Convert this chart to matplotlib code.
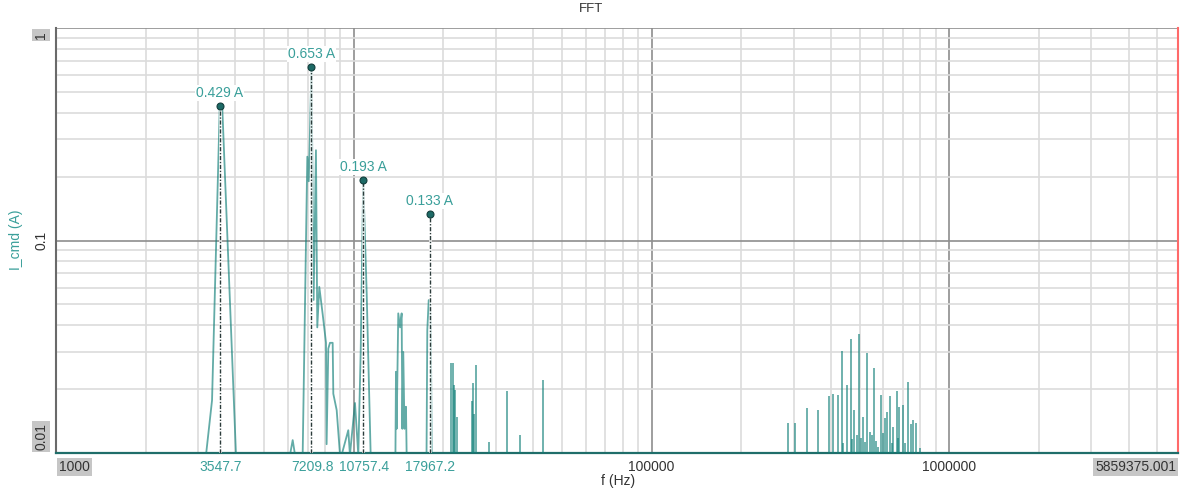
import matplotlib
matplotlib.use("Agg")
import matplotlib.pyplot as plt
import numpy as np
from matplotlib.ticker import LogLocator, NullFormatter

plt.rcParams["font.family"] = ["Liberation Sans", "DejaVu Sans"]

# ---- data (f in Hz, amplitude in A) ----
# connected part of the spectrum (0 = below the 0.01 floor)
band_f = [1000, 3190, 3342, 3547.7, 3617, 4022,
          6107, 6235, 6348,
          6735, 6981, 7060, 7209.8, 7330, 7464, 7541, 7659, 7862, 8067,
          8105, 8212, 8319, 8494, 8536, 8762, 8989, 9105, 9583, 9707,
          10093, 10354, 10549, 10757.4, 11049, 11395,
          13800, 13857, 13930, 14106, 14300, 14480, 14560, 14662, 14800,
          14972, 15050,
          17550, 17655, 17850, 18030, 18150, 18268, 5859375]
band_a = [0, 0, 0.0177, 0.429, 0.424, 0,
          0, 0.0115, 0,
          0, 0.248, 0.19, 0.653, 0.0525, 0.266, 0.039, 0.0605, 0.045, 0.033,
          0.011, 0.031, 0.033, 0.033, 0.019, 0.0159, 0, 0, 0.0128, 0,
          0.0172, 0, 0.03, 0.193, 0.0566, 0,
          0, 0.0241, 0.013, 0.0454, 0.039, 0.0454, 0.013, 0.0299, 0.013,
          0.0165, 0,
          0, 0.0379, 0.0524, 0.0524, 0.0366, 0, 0]

# isolated spectral lines
spike_f = [21158, 21486, 21703, 21872, 22157,
           24882, 25077, 25329, 25725, 28510, 32620, 36140, 43290,
           287700, 303000, 333300, 362900, 395200, 405700, 423700, 437000,
           452100, 466400, 479500, 497200, 511700, 530200, 548500, 558400,
           577300, 589400, 607900, 618800, 633400, 648100, 665400, 679000,
           697000, 709500, 726100, 741300, 756500, 770600, 796700,
           441000, 470000, 489000, 505000, 520000, 541000, 566000, 600000,
           640000, 672000]
spike_a = [0.0264, 0.0266, 0.0209, 0.0198, 0.0148,
           0.0175, 0.0214, 0.0153, 0.0259, 0.0113, 0.0195, 0.0122, 0.0221,
           0.0138, 0.0139, 0.0162, 0.0159, 0.0185, 0.0190, 0.0187, 0.0302,
           0.0210, 0.0343, 0.0159, 0.0362, 0.0148, 0.0296, 0.0122, 0.0252,
           0.0107, 0.0187, 0.0146, 0.0156, 0.0185, 0.0133, 0.0196, 0.0165,
           0.0169, 0.0112, 0.0217, 0.0137, 0.0143, 0.0138, 0.0106,
           0.0112, 0.0116, 0.0121, 0.0118, 0.0113, 0.0125, 0.0114, 0.0124,
           0.0112, 0.0118]

# cursor peaks
peak_f = [3547.7, 7209.8, 10757.4, 17967.2]
peak_a = [0.429, 0.653, 0.193, 0.133]
peak_lbl = ["3547.7", "7209.8", "10757.4", "17967.2"]

TEAL = "#0f7f78"
LABEL_TEAL = "#3a9f9a"
FLOOR = 0.0098  # just under the axis floor, hidden behind the bottom spine

fig = plt.figure(figsize=(11.82, 4.93), dpi=100)
ax = fig.add_axes([56 / 1182, 40 / 493, (1178 - 56) / 1182, (453 - 28) / 493])
ax.set_xscale("log")
ax.set_yscale("log")
ax.set_xlim(1000, 5859375.001)
ax.set_ylim(0.01, 1)

# grid
subs = np.arange(2, 10)
ax.xaxis.set_minor_locator(LogLocator(base=10, subs=subs, numticks=20))
ax.yaxis.set_minor_locator(LogLocator(base=10, subs=subs, numticks=20))
ax.xaxis.set_minor_formatter(NullFormatter())
ax.yaxis.set_minor_formatter(NullFormatter())
ax.grid(which="minor", color="#dcdcdc", lw=1.2)
ax.grid(which="major", color="#8e8e8e", lw=1.2)
ax.set_axisbelow(True)
ax.tick_params(which="both", length=0, labelbottom=False, labelleft=False)

ax.spines["top"].set_visible(False)
ax.spines["left"].set_color("#6a6a6a")
ax.spines["left"].set_linewidth(1.5)
ax.spines["bottom"].set_color("#1f6e6a")
ax.spines["bottom"].set_linewidth(1.6)
ax.spines["right"].set_color("#ff6a6a")
ax.spines["right"].set_linewidth(1.5)

# spectrum
amps = np.where(np.array(band_a) > 0, band_a, FLOOR)
ax.plot(band_f, amps, color=TEAL, alpha=0.65, lw=1.3, zorder=3)
ax.vlines(spike_f, FLOOR, spike_a, color=TEAL, alpha=0.65, lw=1.3, zorder=3)

# cursor lines + markers
ax.vlines(peak_f, 0.01, peak_a, color="white", lw=2.0, alpha=0.8, zorder=4)
ax.vlines(peak_f, 0.01, peak_a, color="#2b3b3a", lw=1.0,
          linestyles=[(0, (3, 1.2, 1, 1.2))], zorder=5)
ax.plot(peak_f, peak_a, "o", ms=5, color="#1d6a66", mec="#123e3c", mew=0.8,
        zorder=6)
for f, a in zip(peak_f, peak_a):
    ax.annotate(f"{a:.3f} A", (f, a), xytext=(0, 6), textcoords="offset pixels",
                ha="center", va="bottom", fontsize=10, color=LABEL_TEAL,
                bbox=dict(fc="white", ec="none", pad=0.8), zorder=7)

# x tick labels
tx = ax.get_xaxis_transform()
gray_box = dict(fc="#c6c6c6", ec="none", pad=1.6)
for f in [100000, 1000000]:
    ax.annotate(f"{f}", (f, 0), xycoords=tx, xytext=(0, -7),
                textcoords="offset pixels", ha="center", va="top",
                fontsize=10, color="#333333", annotation_clip=False)
ax.annotate("1000", (1000, 0), xycoords=tx, xytext=(3, -7),
            textcoords="offset pixels", ha="left", va="top", fontsize=10,
            color="#333333", bbox=gray_box, annotation_clip=False)
ax.annotate("5859375.001", (5859375.001, 0), xycoords=tx, xytext=(-2, -7),
            textcoords="offset pixels", ha="right", va="top", fontsize=10,
            color="#333333", bbox=gray_box, annotation_clip=False)
for f, lbl in zip(peak_f, peak_lbl):
    ax.annotate(lbl, (f, 0), xycoords=tx, xytext=(1, -7),
                textcoords="offset pixels", ha="center", va="top",
                fontsize=10, color=LABEL_TEAL, annotation_clip=False,
                bbox=dict(fc="white", ec="none", pad=0.6))

# y tick labels (rotated)
ty = ax.get_yaxis_transform()
ax.annotate("1", (0, 1), xycoords=ty, xytext=(-8, -3),
            textcoords="offset pixels", ha="right", va="top", rotation=90,
            fontsize=10, color="#333333", bbox=dict(fc="#c6c6c6", ec="none", pad=1.6),
            annotation_clip=False)
ax.annotate("0.1", (0, 0.1), xycoords=ty, xytext=(-7, 0),
            textcoords="offset pixels", ha="right", va="center", rotation=90,
            fontsize=10, color="#333333", annotation_clip=False)
ax.annotate("0.01", (0, 0.01), xycoords=ty, xytext=(-8, 3),
            textcoords="offset pixels", ha="right", va="bottom", rotation=90,
            fontsize=10, color="#333333", bbox=dict(fc="#c6c6c6", ec="none", pad=1.6),
            annotation_clip=False)

fig.text(591 / 1182, 1 - 9 / 493, "FFT", ha="center", va="center",
         fontsize=9.5, color="#333333")
fig.text(618 / 1182, 1 - 481 / 493, "f (Hz)", ha="center", va="center",
         fontsize=10, color="#333333")
fig.text(16 / 1182, 1 - 240 / 493, "I_cmd (A)", ha="center", va="center",
         rotation=90, fontsize=10, color=LABEL_TEAL)

fig.savefig("out.png", dpi=100)
